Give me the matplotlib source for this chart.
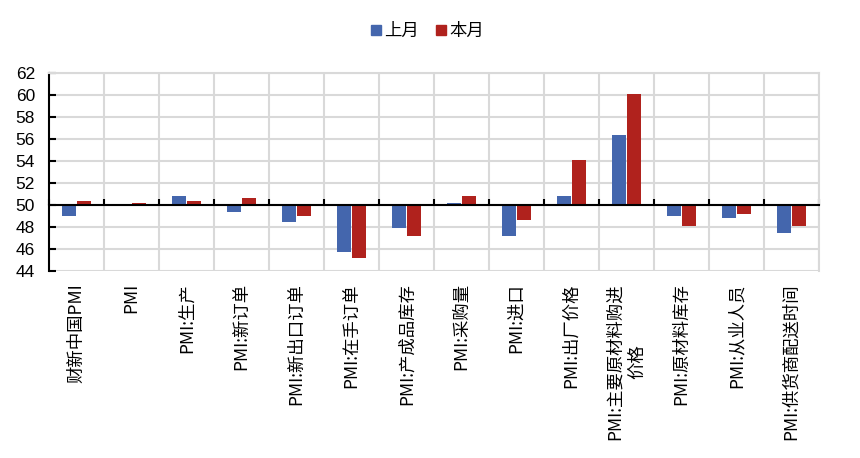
import numpy as np
import matplotlib.pyplot as plt
from matplotlib.patches import Patch
from matplotlib.transforms import blended_transform_factory

plt.rcParams['font.family'] = ['Noto Sans CJK SC', 'DejaVu Sans']

categories = ["财新中国PMI", "PMI", "PMI:生产", "PMI:新订单", "PMI:新出口订单",
              "PMI:在手订单", "PMI:产成品库存", "PMI:采购量", "PMI:进口",
              "PMI:出厂价格", "PMI:主要原材料购进\n价格", "PMI:原材料库存",
              "PMI:从业人员", "PMI:供货商配送时间"]
last_month = [49.0, 50.0, 50.8, 49.4, 48.5, 45.7, 47.9, 50.2, 47.2, 50.8, 56.4, 49.0, 48.8, 47.5]
this_month = [50.4, 50.2, 50.4, 50.6, 49.0, 45.2, 47.2, 50.8, 48.6, 54.1, 60.1, 48.1, 49.2, 48.1]
series_names = ["上月", "本月"]
blue = "#4466AD"
red = "#B0221D"

fig = plt.figure(figsize=(8.6, 4.58), dpi=100)
ax = fig.add_axes([0.057, 0.408, 0.895, 0.433])

x = np.arange(len(categories))
w = 0.25
base = 50
ax.bar(x - 0.136, np.array(last_month) - base, w, bottom=base, color=blue, zorder=3)
ax.bar(x + 0.136, np.array(this_month) - base, w, bottom=base, color=red, zorder=3)

ax.set_xlim(-0.5, len(categories) - 0.5)
ax.set_ylim(44, 62)
ax.set_yticks(np.arange(44, 63, 2))
ax.set_yticklabels([str(v) for v in range(44, 63, 2)], family='Liberation Sans', fontsize=12.5)

# grid
for yv in range(46, 63, 2):
    ax.axhline(yv, color="#D9D9D9", lw=1.5, zorder=1)
for xv in np.arange(0.5, len(categories), 1):
    ax.axvline(xv, color="#D9D9D9", lw=1.5, zorder=1)

for s in ["top", "right"]:
    ax.spines[s].set_color("#D9D9D9")
    ax.spines[s].set_linewidth(1.5)
ax.spines["left"].set_linewidth(1.5)
ax.spines["bottom"].set_position(("data", 50))
ax.spines["bottom"].set_linewidth(1.5)
ax.spines["bottom"].set_zorder(4)
ax.axhline(44, color="#D9D9D9", lw=1.5, zorder=1)

ax.set_xticks(np.arange(-0.5, len(categories), 1))
ax.set_xticklabels([])
ax.tick_params(axis='x', direction='in', length=4, width=1.5)
ax.tick_params(axis='y', direction='in', length=5, width=1.5, pad=10)

trans = blended_transform_factory(ax.transData, ax.transAxes)
for xi, lab in zip(x, categories):
    ax.text(xi, -0.06, lab, rotation=90, ha='center', va='top', transform=trans,
            fontsize=12.5, multialignment='center', linespacing=1.3)

handles = [Patch(color=blue), Patch(color=red)]
fig.legend(handles, series_names, loc='center', bbox_to_anchor=(0.497, 0.932), ncol=2,
           frameon=False, fontsize=12.5, handlelength=0.55, handleheight=0.55,
           handletextpad=0.2, columnspacing=1.0)

fig.savefig("out.png", dpi=100)
